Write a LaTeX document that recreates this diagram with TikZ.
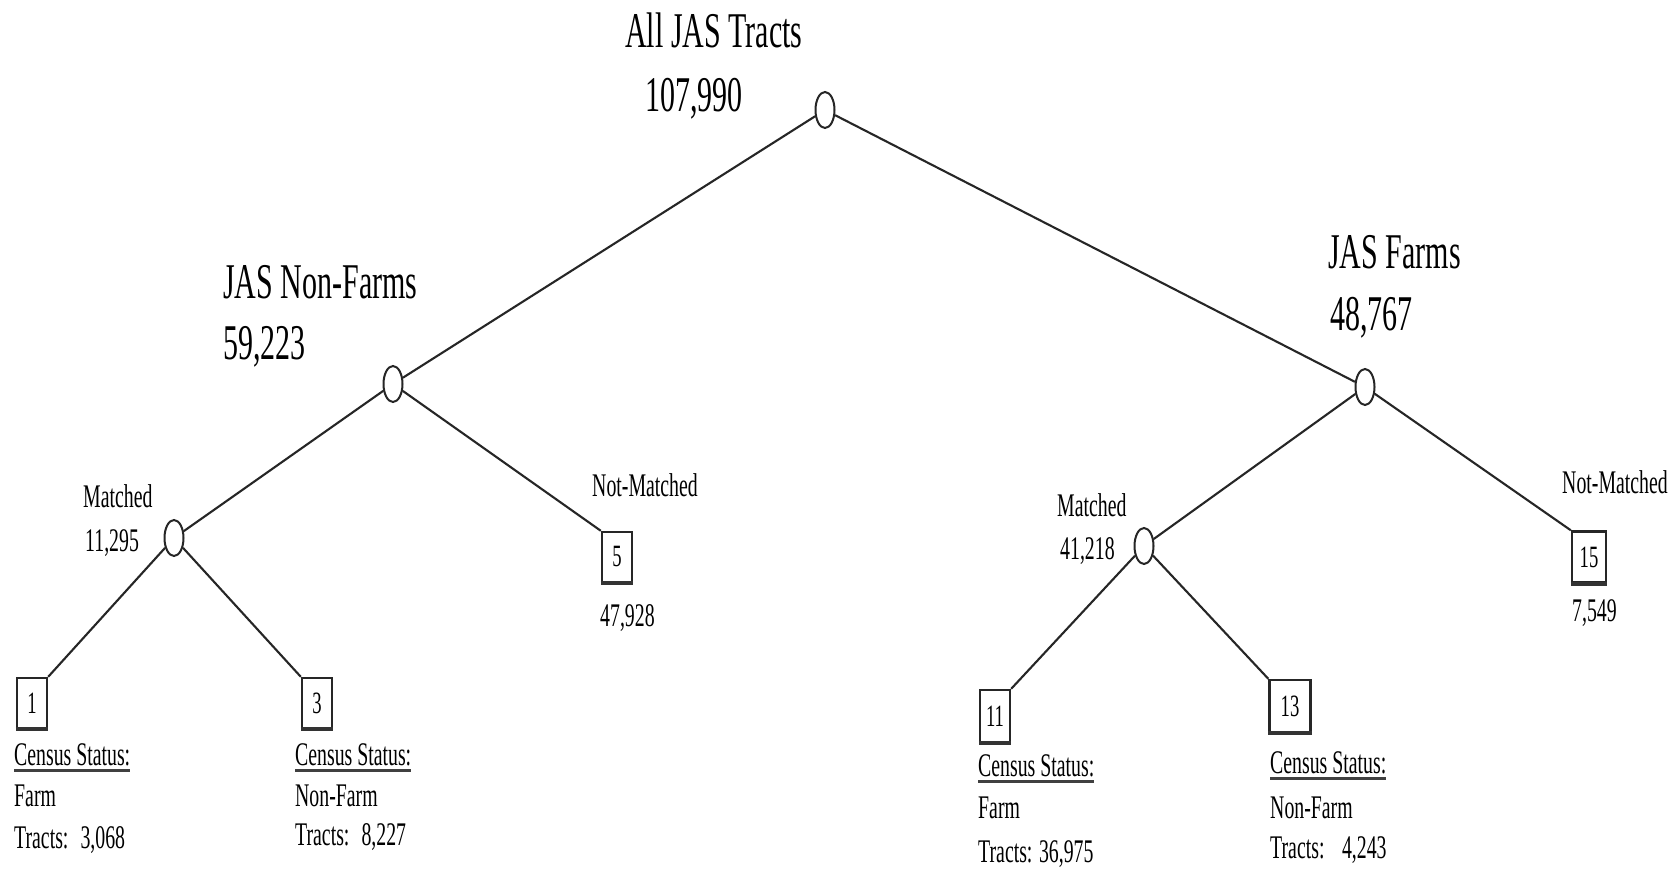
\documentclass[tikz,border=0pt]{standalone}
\usepackage{fontspec}
\setmainfont{Liberation Serif}[FakeStretch=0.6]
\usetikzlibrary{shapes.geometric}
\tikzset{
  decnode/.style={ellipse, draw=black!85, line width=2pt, minimum width=19pt, minimum height=36pt, inner sep=0pt},
  leafbox/.style={rectangle, draw=black!85, line width=2.4pt, minimum width=30pt, minimum height=50pt, inner sep=0pt, font=\fontsize{31}{36}\selectfont},
  branch/.style={draw=black!85, line width=2.1pt},
  boxbase/.style={draw=black!80, line width=4pt},
  bigtxt/.style={anchor=base west, inner sep=0pt, font=\fontsize{50}{60}\selectfont},
  smalltxt/.style={anchor=base west, inner sep=0pt, font=\fontsize{33}{40}\selectfont},
  uline/.style={draw=black!75, line width=2.5pt}
}
\begin{document}
\begin{tikzpicture}[x=1pt, y=-1pt]
\useasboundingbox[fill=white] (0,0) rectangle (1679,874);

% decision nodes
\node[decnode] (root) at (825,110) {};
\node[decnode] (nf) at (393,384) {};
\node[decnode] (fa) at (1365,387) {};
\node[decnode] (mL) at (174,538) {};
\node[decnode] (mR) at (1144,546) {};

% leaves
\node[leafbox] (b1) at (32,703) {1};
\node[leafbox] (b3) at (317,703) {3};
\node[leafbox] (b5) at (617,557) {5};
\node[leafbox, minimum height=52pt] (b11) at (995,716) {11};
\node[leafbox, minimum width=41pt, minimum height=52pt] (b13) at (1290,706) {13};
\node[leafbox, minimum width=34pt, minimum height=51pt] (b15) at (1589,557) {15};
\foreach \b in {b1,b3,b5,b11,b13,b15}
  \draw[boxbase] (\b.south west) -- (\b.south east);

% branches
\draw[branch] (root) -- (nf);
\draw[branch] (root) -- (fa);
\draw[branch] (nf) -- (mL);
\draw[branch] (nf) -- (b5.north west);
\draw[branch] (mL) -- (b1.north east);
\draw[branch] (mL) -- (b3.north west);
\draw[branch] (fa) -- (mR);
\draw[branch] (fa) -- (b15.north west);
\draw[branch] (mR) -- (b11.north east);
\draw[branch] (mR) -- (b13.north west);

% big labels
\node[bigtxt] (t1) at (625,48) {All JAS Tracts};
\node[bigtxt] (t2) at (645,112) {107,990};
\node[bigtxt] (t3) at (223,299) {JAS Non-Farms};
\node[bigtxt] (t4) at (223,360) {59,223};
\node[bigtxt] (t5) at (1328,269) {JAS Farms};
\node[bigtxt] (t6) at (1330,331) {48,767};

% small labels
\node[smalltxt] (l1) at (83,507) {Matched};
\node[smalltxt] (l2) at (85,551) {11,295};
\node[smalltxt] (l3) at (1057,516) {Matched};
\node[smalltxt] (l4) at (1060,559) {41,218};
\node[smalltxt] (l5) at (592,496) {Not-Matched};
\node[smalltxt] (l6) at (600,626) {47,928};
\node[smalltxt] (l7) at (1562,493) {Not-Matched};
\node[smalltxt] (l8) at (1572,621) {7,549};

% leaf descriptions
\node[smalltxt] (c1) at (14,765) {Census Status:};
\node[smalltxt] (c1a) at (14,806) {Farm};
\node[smalltxt] (c1b) at (14,848) {Tracts:\, 3,068};
\node[smalltxt] (c3) at (295,765) {Census Status:};
\node[smalltxt] (c3a) at (295,806) {Non-Farm};
\node[smalltxt] (c3b) at (295,845) {Tracts:\, 8,227};
\node[smalltxt] (c11) at (978,776) {Census Status:};
\node[smalltxt] (c11a) at (978,818) {Farm};
\node[smalltxt] (c11b) at (978,862) {Tracts: 36,975};
\node[smalltxt] (c13) at (1270,773) {Census Status:};
\node[smalltxt] (c13a) at (1270,818) {Non-Farm};
\node[smalltxt] (c13b) at (1270,858) {Tracts:\,\, 4,243};

\foreach \n in {c1,c3,c11,c13}
  \draw[uline] ([yshift=-5pt]\n.south west) -- ([yshift=-5pt]\n.south east);
\end{tikzpicture}
\end{document}
